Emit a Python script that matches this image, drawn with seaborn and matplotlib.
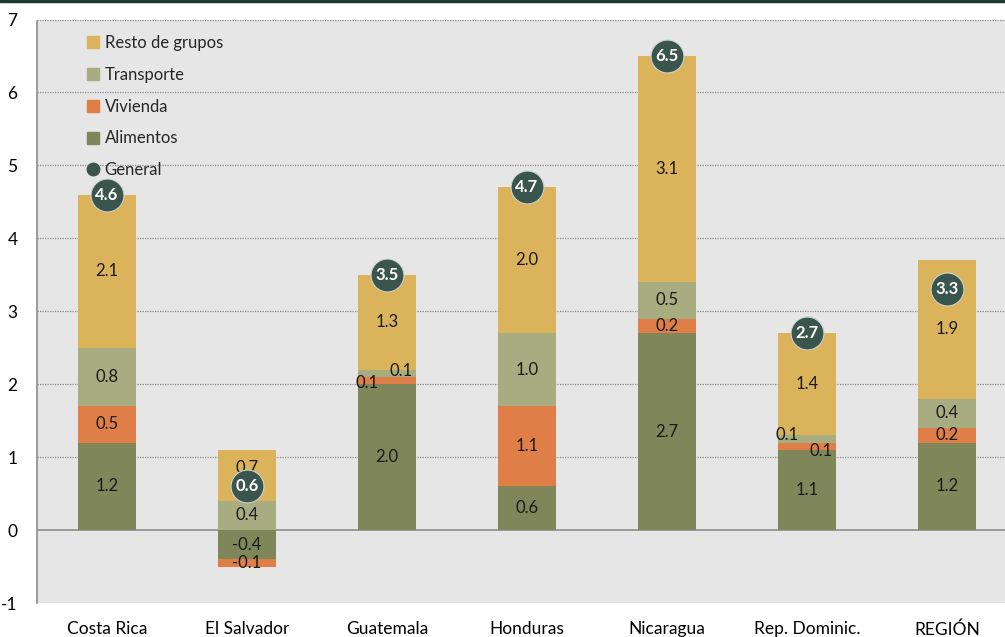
import matplotlib
matplotlib.use("Agg")
import matplotlib.pyplot as plt
from matplotlib.lines import Line2D
import seaborn as sns
import numpy as np
import pandas as pd

categories = ["Costa Rica", "El Salvador", "Guatemala", "Honduras", "Nicaragua", "Rep. Dominic.", "REGIÓN"]
alimentos = [1.2, -0.4, 2.0, 0.6, 2.7, 1.1, 1.2]
vivienda = [0.5, -0.1, 0.1, 1.1, 0.2, 0.1, 0.2]
transporte = [0.8, 0.4, 0.1, 1.0, 0.5, 0.1, 0.4]
resto = [2.1, 0.7, 1.3, 2.0, 3.1, 1.4, 1.9]
general = [4.6, 0.6, 3.5, 4.7, 6.5, 2.7, 3.3]
yticks = [-1, 0, 1, 2, 3, 4, 5, 6, 7]

series_names = ["Alimentos", "Vivienda", "Transporte", "Resto de grupos"]
series_vals = [alimentos, vivienda, transporte, resto]
colors = {"Alimentos": "#7F8659", "Vivienda": "#DF7F47",
          "Transporte": "#A7AD80", "Resto de grupos": "#DBB35B"}
dot_color = "#3A554C"

sns.set_theme(style="white")
plt.rcParams["font.family"] = ["Lato", "DejaVu Sans"]

fig = plt.figure(figsize=(10.05, 6.37), dpi=100)
ax = fig.add_axes([37 / 1005, 34 / 637, 980 / 1005, 583.5 / 637])
ax.set_facecolor("#E6E6E6")

x = np.arange(len(categories))
width = 0.41
pos_base = np.zeros(len(categories))
neg_base = np.zeros(len(categories))

# label offsets for tiny overlapping segments
label_dx = {("Vivienda", 2): -0.14, ("Transporte", 2): 0.1,
            ("Transporte", 5): -0.14, ("Vivienda", 5): 0.1}
label_dy = {("Vivienda", 2): -0.03, ("Transporte", 2): 0.03,
            ("Transporte", 5): 0.05, ("Vivienda", 5): -0.06,
            ("Resto de grupos", 1): 0.1}

for name, vals in zip(series_names, series_vals):
    vals = np.array(vals, dtype=float)
    bottoms = np.where(vals >= 0, pos_base, neg_base)
    ax.bar(x, vals, width=width, bottom=bottoms, color=colors[name],
           edgecolor="none", zorder=3)
    for i, v in enumerate(vals):
        cy = bottoms[i] + v / 2 + label_dy.get((name, i), 0)
        cx = x[i] + label_dx.get((name, i), 0)
        ax.text(cx, cy, f"{v:.1f}", ha="center", va="center", fontsize=12,
                color="#1a1a1a", zorder=5)
    pos_base = pos_base + np.where(vals >= 0, vals, 0)
    neg_base = neg_base + np.where(vals < 0, vals, 0)

df_gen = pd.DataFrame({"x": x, "General": general})
sns.scatterplot(data=df_gen, x="x", y="General", s=560, color=dot_color,
                edgecolor="#C9D2CD", linewidth=0.8, ax=ax, zorder=6, legend=False)
for i, g in enumerate(general):
    ax.text(x[i], g, f"{g:.1f}", ha="center", va="center", fontsize=12,
            fontweight="bold", color="white", zorder=7)

ax.set_xlim(-0.5, 6.5)
ax.set_ylim(-1, 7)
ax.set_yticks(yticks)
ax.set_yticklabels([str(t) for t in yticks], fontsize=12.5, color="#000000")
ax.set_xticks(x)
ax.set_xticklabels(categories, fontsize=12.5, color="#000000")
ax.tick_params(axis="y", length=0, pad=14)
ax.tick_params(axis="x", length=0, pad=13)

for t in yticks:
    if t == 0:
        ax.axhline(0, color="#8C8C8C", lw=1.2, zorder=2)
    else:
        ax.axhline(t, color="#8C8C8C", lw=0.9, ls=(0, (1, 1)), zorder=2)
for s in ["top", "right", "bottom"]:
    ax.spines[s].set_visible(False)
ax.spines["left"].set_color("#8C8C8C")
ax.spines["left"].set_linestyle((0, (1, 1)))
ax.spines["left"].set_linewidth(1.2)
ax.set_xlabel("")
ax.set_ylabel("")

handles = [Line2D([], [], marker="s", ls="none", color=colors["Resto de grupos"], markersize=9),
           Line2D([], [], marker="s", ls="none", color=colors["Transporte"], markersize=9),
           Line2D([], [], marker="s", ls="none", color=colors["Vivienda"], markersize=9),
           Line2D([], [], marker="s", ls="none", color=colors["Alimentos"], markersize=9),
           Line2D([], [], marker="o", ls="none", color=dot_color, markersize=9)]
labels = ["Resto de grupos", "Transporte", "Vivienda", "Alimentos", "General"]
leg = ax.legend(handles, labels, loc="upper left", bbox_to_anchor=(0.040, 0.985),
                frameon=False, fontsize=12, labelspacing=0.95,
                handletextpad=0.1, handlelength=1.2, borderaxespad=0)
leg.set_zorder(10)

fig.add_artist(Line2D([0, 1], [1 - 1 / 637, 1 - 1 / 637], transform=fig.transFigure,
                      color="#1E3A2E", lw=2.5))

fig.savefig("out.png", dpi=100)
